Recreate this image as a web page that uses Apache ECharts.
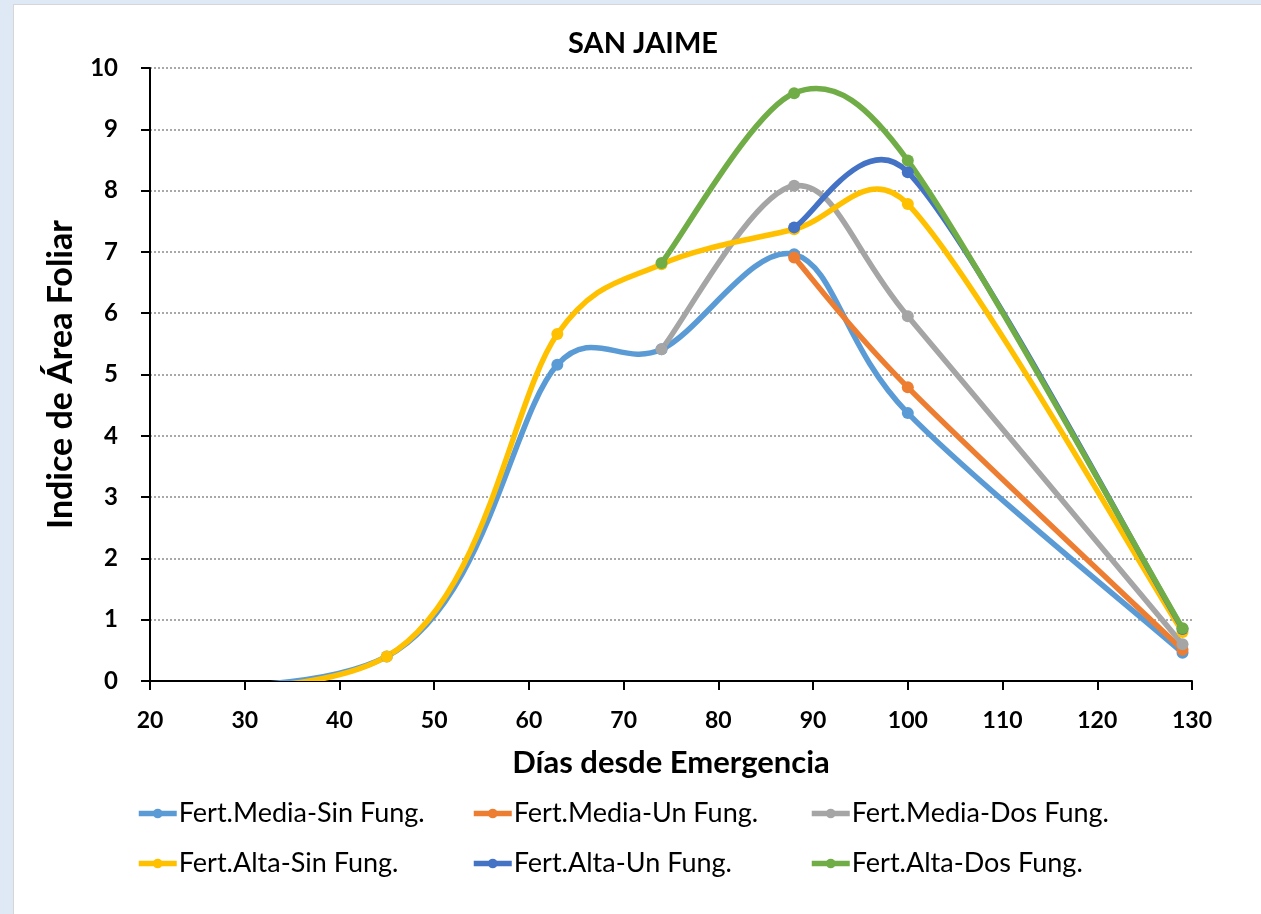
<!DOCTYPE html>
<html>
<head>
<meta charset="utf-8">
<script src="https://cdn.jsdelivr.net/npm/echarts@6/dist/echarts.min.js"></script>
<style>
  html, body { margin: 0; padding: 0; background: #dee9f5; }
  #chart {
    position: absolute; left: 13px; top: 4px;
    width: 1248px; height: 910px;
    background: #fff; border-left: 1px solid #d6d6d6; border-top: 1px solid #d6d6d6;
  }
</style>
</head>
<body>
<div id="chart"></div>
<script>
// dias desde emergencia (el dia 0 queda fuera del eje)
const diasMediaSin = [0, 45, 63, 74, 88, 100, 129];
const mediaSin = [0, 0.4, 5.16, 5.41, 6.96, 4.37, 0.46];
const diasMediaUn = [88, 100, 129];
const mediaUn = [6.91, 4.79, 0.51];
const diasMediaDos = [74, 88, 100, 129];
const mediaDos = [5.41, 8.08, 5.95, 0.6];
const diasAltaSin = [0, 45, 63, 74, 88, 100, 129];
const altaSin = [0, 0.4, 5.66, 6.8, 7.37, 7.78, 0.8];
const diasAltaUn = [88, 100, 129];
const altaUn = [7.4, 8.3, 0.85];
const diasAltaDos = [74, 88, 100, 129];
const altaDos = [6.82, 9.59, 8.49, 0.86];

const nombres = [
  "Fert.Media-Sin Fung.", "Fert.Media-Un Fung.", "Fert.Media-Dos Fung.",
  "Fert.Alta-Sin Fung.", "Fert.Alta-Un Fung.", "Fert.Alta-Dos Fung."
];
const colores = ["#5b9bd5", "#ed7d31", "#a5a5a5", "#ffc000", "#4472c4", "#70ad47"];
const dias = [diasMediaSin, diasMediaUn, diasMediaDos, diasAltaSin, diasAltaUn, diasAltaDos];
const valores = [mediaSin, mediaUn, mediaDos, altaSin, altaUn, altaDos];

const fuente = "Lato, 'Open Sans', sans-serif";
const grosor = 5.5;

// brazo de control: tangente/6, como mucho la mitad del tramo
function brazo(a, b, seg) {
  let v = [(b[0] - a[0]) / 6, (b[1] - a[1]) / 6];
  const len = Math.hypot(v[0], v[1]);
  if (len > seg / 2) v = [v[0] * seg / 2 / len, v[1] * seg / 2 / len];
  return v;
}

// curva suavizada tipo Excel
function trazoSuave(pts) {
  let d = "M" + pts[0][0] + "," + pts[0][1];
  for (let i = 0; i < pts.length - 1; i++) {
    const p0 = pts[i - 1] || pts[i];
    const p1 = pts[i];
    const p2 = pts[i + 1];
    const p3 = pts[i + 2] || pts[i + 1];
    const seg = Math.hypot(p2[0] - p1[0], p2[1] - p1[1]);
    const v1 = brazo(p0, p2, seg);
    const v2 = brazo(p1, p3, seg);
    const c1 = [p1[0] + v1[0], p1[1] + v1[1]];
    const c2 = [p2[0] - v2[0], p2[1] - v2[1]];
    d += " C" + c1[0] + "," + c1[1] + " " + c2[0] + "," + c2[1] + " " + p2[0] + "," + p2[1];
  }
  return d;
}

const puntos = dias.map((ds, i) => ds.map((d, k) => [d, valores[i][k]]));

// series de linea: solo marcadores (y leyenda)
const marcadores = nombres.map((name, i) => ({
  name,
  type: "line",
  z: 4,
  clip: true,
  symbol: "circle",
  symbolSize: 12,
  lineStyle: { width: 0, opacity: 0, color: colores[i] },
  itemStyle: { color: colores[i] },
  data: puntos[i].map((p) => p[1] === 0 ? { value: p, symbol: "none" } : p),
}));

// curvas dibujadas con las coordenadas del propio eje
const curvas = nombres.map((name, i) => ({
  type: "custom",
  z: 3,
  clip: true,
  silent: true,
  encode: { x: 0, y: 1 },
  data: puntos[i],
  renderItem: (params, api) => {
    if (params.dataIndex !== 0) return;
    const pts = puntos[i].map((p) => api.coord(p));
    return {
      type: "path",
      shape: { pathData: trazoSuave(pts) },
      style: { fill: null, stroke: colores[i], lineWidth: grosor, lineJoin: "round", lineCap: "round" },
    };
  },
}));

// leyenda: dos filas de tres
const colLeft = [122, 457, 795];
const rowTop = [795, 845];
const legends = nombres.map((name, i) => ({
  data: [{ name, lineStyle: { color: colores[i], width: grosor, opacity: 1 } }],
  left: colLeft[i % 3],
  top: rowTop[Math.floor(i / 3)],
  padding: 0,
  itemWidth: 38,
  itemHeight: 12,
  itemGap: 2,
  textStyle: { fontFamily: fuente, fontSize: 27, color: "#000", padding: [0, 0, 0, -3] },
}));

const chart = echarts.init(document.getElementById("chart"));
chart.setOption({
  animation: false,
  color: colores,
  title: {
    text: "SAN JAIME",
    left: 624, top: 19, textAlign: "center",
    textStyle: { fontFamily: fuente, fontSize: 29, fontWeight: "bold", color: "#000" },
  },
  legend: legends,
  grid: { left: 136, right: 70, top: 63, bottom: 234 },
  xAxis: {
    type: "value",
    min: 20, max: 130, interval: 10,
    name: "Días desde Emergencia",
    nameLocation: "middle",
    nameGap: 66,
    nameTextStyle: { fontFamily: fuente, fontSize: 31, fontWeight: "bold", color: "#000" },
    axisLine: { show: true, onZero: false, lineStyle: { color: "#000", width: 2 } },
    axisTick: { show: true, length: 9, lineStyle: { color: "#000", width: 2 } },
    axisLabel: { margin: 28, fontFamily: fuente, fontSize: 23, fontWeight: "bold", color: "#000" },
    splitLine: { show: false },
  },
  yAxis: {
    type: "value",
    min: 0, max: 10, interval: 1,
    name: "Indice de Área Foliar",
    nameLocation: "middle",
    nameGap: 72,
    nameTextStyle: { fontFamily: fuente, fontSize: 34, fontWeight: "bold", color: "#000" },
    axisLine: { show: true, lineStyle: { color: "#000", width: 2 } },
    axisTick: { show: true, length: 9, lineStyle: { color: "#000", width: 2 } },
    axisLabel: { margin: 32, fontFamily: fuente, fontSize: 24, fontWeight: "bold", color: "#000" },
    splitLine: { show: true, lineStyle: { color: "#8c8c8c", type: [2, 2], width: 1.5 } },
  },
  series: [...marcadores, ...curvas],
});
</script>
</body>
</html>
